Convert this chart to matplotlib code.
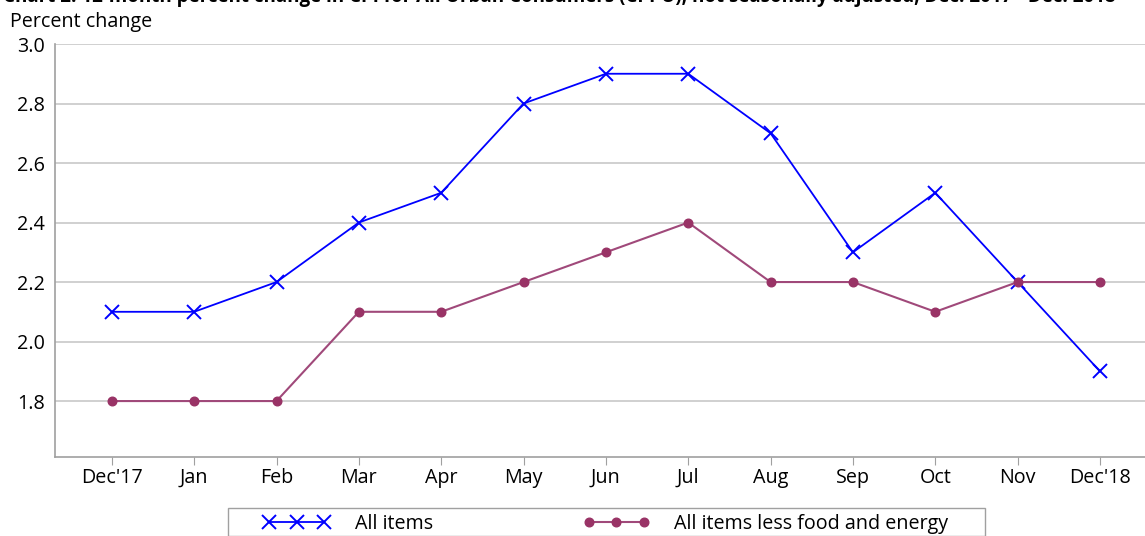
import matplotlib
matplotlib.use("Agg")
import matplotlib.pyplot as plt
from matplotlib.patches import Rectangle

months = ["Dec'17", "Jan", "Feb", "Mar", "Apr", "May", "Jun", "Jul", "Aug", "Sep", "Oct", "Nov", "Dec'18"]
all_items = [2.1, 2.1, 2.2, 2.4, 2.5, 2.8, 2.9, 2.9, 2.7, 2.3, 2.5, 2.2, 1.9]
core = [1.8, 1.8, 1.8, 2.1, 2.1, 2.2, 2.3, 2.4, 2.2, 2.2, 2.1, 2.2, 2.2]
yticks = [1.8, 2.0, 2.2, 2.4, 2.6, 2.8, 3.0]
title = "Chart 2. 12-month percent change in CPI for All Urban Consumers (CPI-U), not seasonally adjusted, Dec. 2017 - Dec. 2018"

plt.rcParams['font.family'] = ['Open Sans', 'DejaVu Sans']
FS = 14.2

W, H = 1145, 536
fig = plt.figure(figsize=(W / 100, H / 100), dpi=100)
ax = fig.add_axes([55 / W, 1 - 457 / H, 1 - 55 / W, (457 - 44) / H])

x = list(range(len(months)))
ax.plot(x, all_items, color='#0000ff', lw=1.3, marker='x', ms=9.5, mew=1.4, label='All items', zorder=3)
ax.plot(x, core, color='#a0497a', lw=1.5, marker='o', ms=6.2, mfc='#993366', mec='#993366',
        label='All items less food and energy', zorder=3)

ax.set_ylim(1.612, 3.0)
ax.set_xlim(-0.69, (W - 112) / 82.33)
ax.set_yticks(yticks)
ax.set_yticklabels([f"{v:.1f}" for v in yticks], fontsize=FS)
ax.set_xticks(x)
ax.set_xticklabels(months, fontsize=FS)
ax.grid(axis='y', color='#c8c8c8', lw=1.2)
ax.tick_params(axis='y', length=0, pad=7)
ax.tick_params(axis='x', length=6, color='#a0a0a0', pad=2)
for s in ['top', 'right']:
    ax.spines[s].set_visible(False)
for s in ['left', 'bottom']:
    ax.spines[s].set_color('#a0a0a0')
    ax.spines[s].set_linewidth(1.2)

fig.text(10 / W, 1 - 22 / H, "Percent change", fontsize=FS, va='center', ha='left')
fig.text(3 / W, 1 + 3 / H, title, fontsize=13.5, va='center', ha='left', fontweight='bold')

fig.patches.append(Rectangle((228 / W, 0), (985 - 228) / W, 1 - 508 / H, transform=fig.transFigure,
                             fill=False, edgecolor='#a0a0a0', lw=1.0))
h, l = ax.get_legend_handles_labels()
leg = fig.legend(h, l, loc='center left', bbox_to_anchor=(263 / W, 1 - 524 / H), ncol=2, numpoints=3,
                 fontsize=FS, frameon=False, handlelength=3.4, columnspacing=7.6,
                 borderpad=0, handletextpad=1.25, borderaxespad=0)

fig.savefig("out.png", dpi=100)
